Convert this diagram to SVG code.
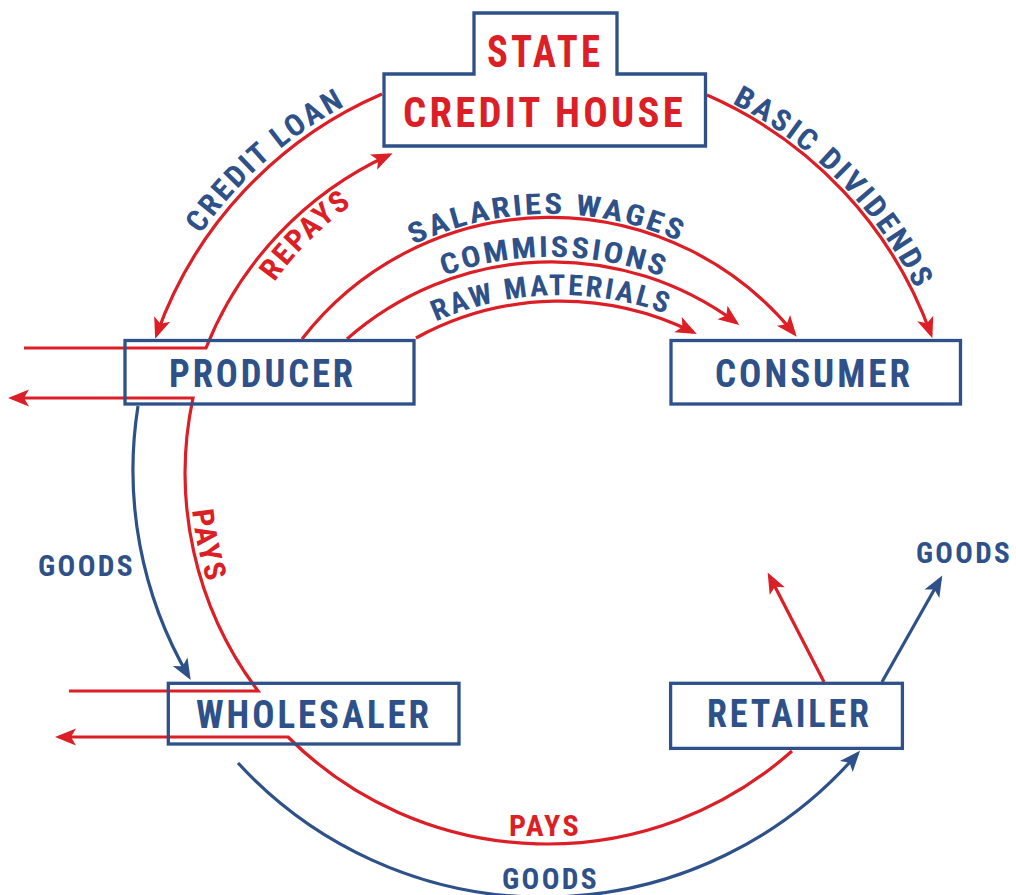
<svg xmlns="http://www.w3.org/2000/svg" width="1016" height="895" viewBox="0 0 1016 895">
<style>
  .box{fill:none;stroke:#2e5189;stroke-width:3.3}
  .r{fill:none;stroke:#dc1f26;stroke-width:3.2}
  .b{fill:none;stroke:#2e5189;stroke-width:3.2}
  .ra{marker-end:url(#ar)}
  .ba{marker-end:url(#ab)}
  text{font-family:"Roboto Condensed","Liberation Sans Narrow","DejaVu Sans Condensed","Liberation Sans",sans-serif;font-weight:bold;font-stretch:condensed;letter-spacing:0.08em}
  .tb{fill:#2e5189}
  .tr{fill:#dc1f26}
</style>
<defs>
  <marker id="ar" markerUnits="userSpaceOnUse" viewBox="-22 -11 27 22" markerWidth="27" markerHeight="22" refX="0" refY="0" orient="auto">
    <path d="M4,0 L-17,-8.5 L-12,0 L-17,8.5 Z" fill="#dc1f26"/>
  </marker>
  <marker id="ab" markerUnits="userSpaceOnUse" viewBox="-22 -11 27 22" markerWidth="27" markerHeight="22" refX="0" refY="0" orient="auto">
    <path d="M4,0 L-17,-8.5 L-12,0 L-17,8.5 Z" fill="#2e5189"/>
  </marker>
  <path id="pCredit" d="M 200.6 234.2 A 418 418 0 0 1 346.8 104.9"/>
  <path id="pRepays" d="M 274.3 282.4 A 330 330 0 0 1 353.7 203.7"/>
  <path id="pBasic" d="M 731.9 103.3 A 416 416 0 0 1 916.9 291.6"/>
  <path id="pSal" d="M 413.5 244.9 A 317 317 0 0 1 681.5 242.5"/>
  <path id="pCom" d="M 443.9 275.8 A 315 315 0 0 1 664.5 277.7"/>
  <path id="pRaw" d="M 435.8 321.6 A 306 306 0 0 1 668.0 314.7"/>
  <path id="pPays" d="M 192.0 510.3 A 357 357 0 0 0 208.5 586.3"/>
</defs>

<g id="connectors">
  <path class="r ra" d="M 382 94 A 412 412 0 0 0 156.5 335"/>
  <path class="r ra" d="M 707 95 A 414 414 0 0 1 931 334.5"/>
  <path class="r ra" d="M 24 348 H 206 A 358 358 0 0 1 389 155"/>
  <path class="r ra" d="M 69 691 H 258 A 362 362 0 0 1 193 398 H 12"/>
  <path class="r ra" d="M 792 751 A 368 368 0 0 1 288 737 H 59"/>
  <path class="b ba" d="M 138 406 A 410 410 0 0 0 188.7 676.5"/>
  <path class="b ba" d="M 238 763 A 415 415 0 0 0 857.4 753.7"/>
  <path class="r ra" d="M 824 682 L 769.5 576"/>
  <path class="b ba" d="M 882 682 L 940.3 579"/>
  <path class="r ra" d="M 302 339 A 314 314 0 0 1 794.2 333.6"/>
  <path class="r ra" d="M 347 339 A 310 310 0 0 1 736.1 322.6"/>
  <path class="r ra" d="M 416 338 A 300 300 0 0 1 693.2 332.2"/>

  <text class="tb" font-size="30"><textPath href="#pCredit" textLength="197" lengthAdjust="spacingAndGlyphs">CREDIT LOAN</textPath></text>
  <text class="tr" font-size="30"><textPath href="#pRepays" textLength="112" lengthAdjust="spacingAndGlyphs">REPAYS</textPath></text>
  <text class="tb" font-size="30"><textPath href="#pBasic" textLength="268" lengthAdjust="spacingAndGlyphs">BASIC DIVIDENDS</textPath></text>
  <text class="tb" font-size="29"><textPath href="#pSal" textLength="276" lengthAdjust="spacingAndGlyphs">SALARIES WAGES</textPath></text>
  <text class="tb" font-size="29"><textPath href="#pCom" textLength="225" lengthAdjust="spacingAndGlyphs">COMMISSIONS</textPath></text>
  <text class="tb" font-size="29"><textPath href="#pRaw" textLength="238" lengthAdjust="spacingAndGlyphs">RAW MATERIALS</textPath></text>
  <text class="tr" font-size="30"><textPath href="#pPays" textLength="76" lengthAdjust="spacingAndGlyphs">PAYS</textPath></text>
  <text class="tb" x="86.5" y="575.5" font-size="30" text-anchor="middle" textLength="97" lengthAdjust="spacingAndGlyphs">GOODS</text>
  <text class="tb" x="964" y="563" font-size="30" text-anchor="middle" textLength="96" lengthAdjust="spacingAndGlyphs">GOODS</text>
  <text class="tb" x="550.5" y="888.5" font-size="30" text-anchor="middle" textLength="97" lengthAdjust="spacingAndGlyphs">GOODS</text>
  <text class="tr" x="545" y="836" font-size="30" text-anchor="middle" textLength="72" lengthAdjust="spacingAndGlyphs">PAYS</text>
</g>

<g id="state-credit-house">
  <path class="box" d="M 474 13 H 617 V 74 H 705.5 V 146 H 384 V 74 H 474 Z"/>
  <text class="tr" x="545" y="67" font-size="44" text-anchor="middle" textLength="116" lengthAdjust="spacingAndGlyphs">STATE</text>
  <text class="tr" x="544.5" y="127" font-size="43" text-anchor="middle" textLength="283" lengthAdjust="spacingAndGlyphs">CREDIT HOUSE</text>
</g>
<g id="producer">
  <rect class="box" x="125" y="340.5" width="289" height="63.5"/>
  <text class="tb" x="262.5" y="387" font-size="38" text-anchor="middle" textLength="187" lengthAdjust="spacingAndGlyphs">PRODUCER</text>
</g>
<g id="consumer">
  <rect class="box" x="671" y="340.5" width="289.5" height="63.5"/>
  <text class="tb" x="814" y="387" font-size="38" text-anchor="middle" textLength="198" lengthAdjust="spacingAndGlyphs">CONSUMER</text>
</g>
<g id="wholesaler">
  <rect class="box" x="168.3" y="683.3" width="290.7" height="60.7"/>
  <text class="tb" x="314" y="727.5" font-size="38" text-anchor="middle" textLength="236" lengthAdjust="spacingAndGlyphs">WHOLESALER</text>
</g>
<g id="retailer">
  <rect class="box" x="670.6" y="683.3" width="231.8" height="65.1"/>
  <text class="tb" x="789.5" y="726.5" font-size="39" text-anchor="middle" textLength="165" lengthAdjust="spacingAndGlyphs">RETAILER</text>
</g>
</svg>
